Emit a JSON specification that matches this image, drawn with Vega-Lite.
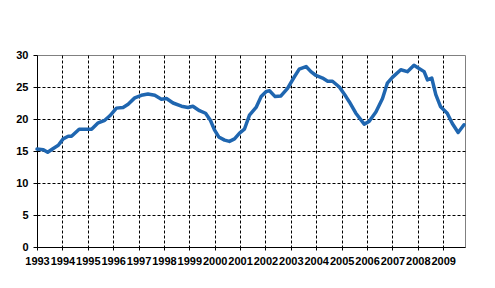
{
  "$schema": "https://vega.github.io/schema/vega-lite/v6.json",
  "width": 428,
  "height": 192,
  "autosize": {"type": "none"},
  "padding": {"left": 37, "top": 55, "right": 30, "bottom": 41},
  "background": "white",
  "config": {
    "view": {"stroke": "#808080", "strokeWidth": 1},
    "axis": {
      "labelFont": "Liberation Sans",
      "labelFontSize": 11,
      "labelFontWeight": "bold",
      "labelColor": "black",
      "domainColor": "black",
      "tickColor": "black",
      "tickSize": 4,
      "gridColor": "black",
      "gridDash": [3, 2],
      "gridOpacity": 1,
      "gridWidth": 1,
      "title": null
    }
  },
  "data": {
    "values": [
      {"t": 1993.0, "v": 15.3},
      {"t": 1993.25, "v": 15.2},
      {"t": 1993.42, "v": 14.8},
      {"t": 1993.64, "v": 15.4},
      {"t": 1993.84, "v": 15.9},
      {"t": 1994.03, "v": 16.9},
      {"t": 1994.23, "v": 17.3},
      {"t": 1994.36, "v": 17.3},
      {"t": 1994.66, "v": 18.4},
      {"t": 1994.89, "v": 18.4},
      {"t": 1995.15, "v": 18.4},
      {"t": 1995.41, "v": 19.4},
      {"t": 1995.67, "v": 19.8},
      {"t": 1995.87, "v": 20.5},
      {"t": 1996.13, "v": 21.7},
      {"t": 1996.39, "v": 21.8},
      {"t": 1996.59, "v": 22.3},
      {"t": 1996.85, "v": 23.3},
      {"t": 1997.11, "v": 23.7},
      {"t": 1997.37, "v": 23.9},
      {"t": 1997.64, "v": 23.7},
      {"t": 1997.9, "v": 23.1},
      {"t": 1998.1, "v": 23.2},
      {"t": 1998.36, "v": 22.5},
      {"t": 1998.69, "v": 22.0},
      {"t": 1998.95, "v": 21.8},
      {"t": 1999.14, "v": 22.0},
      {"t": 1999.4, "v": 21.3},
      {"t": 1999.64, "v": 20.9},
      {"t": 1999.83, "v": 19.8},
      {"t": 1999.99, "v": 18.3},
      {"t": 2000.16, "v": 17.2},
      {"t": 2000.39, "v": 16.7},
      {"t": 2000.58, "v": 16.5},
      {"t": 2000.78, "v": 16.9},
      {"t": 2000.98, "v": 17.8},
      {"t": 2001.17, "v": 18.4},
      {"t": 2001.37, "v": 20.6},
      {"t": 2001.63, "v": 21.8},
      {"t": 2001.83, "v": 23.5},
      {"t": 2002.03, "v": 24.3},
      {"t": 2002.16, "v": 24.4},
      {"t": 2002.38, "v": 23.5},
      {"t": 2002.61, "v": 23.6},
      {"t": 2002.87, "v": 24.8},
      {"t": 2003.14, "v": 26.6},
      {"t": 2003.33, "v": 27.8},
      {"t": 2003.6, "v": 28.2},
      {"t": 2003.79, "v": 27.4},
      {"t": 2003.99, "v": 26.8},
      {"t": 2004.25, "v": 26.4},
      {"t": 2004.45, "v": 25.9},
      {"t": 2004.64, "v": 25.9},
      {"t": 2004.91, "v": 25.0},
      {"t": 2005.17, "v": 23.5},
      {"t": 2005.3, "v": 22.7},
      {"t": 2005.56, "v": 20.9},
      {"t": 2005.89, "v": 19.2},
      {"t": 2006.08, "v": 19.6},
      {"t": 2006.35, "v": 21.1},
      {"t": 2006.61, "v": 23.2},
      {"t": 2006.8, "v": 25.6},
      {"t": 2007.0, "v": 26.5},
      {"t": 2007.33, "v": 27.7},
      {"t": 2007.59, "v": 27.4},
      {"t": 2007.85, "v": 28.4},
      {"t": 2008.05, "v": 27.9},
      {"t": 2008.25, "v": 27.4},
      {"t": 2008.38, "v": 26.1},
      {"t": 2008.55, "v": 26.4},
      {"t": 2008.71, "v": 23.8},
      {"t": 2008.9, "v": 21.9},
      {"t": 2009.16, "v": 20.9},
      {"t": 2009.36, "v": 19.3},
      {"t": 2009.59, "v": 17.9},
      {"t": 2009.82, "v": 19.1}
    ]
  },
  "mark": {"type": "line", "color": "#1F66B0", "strokeWidth": 3.5, "strokeJoin": "round", "strokeCap": "round"},
  "encoding": {
    "x": {
      "field": "t",
      "type": "quantitative",
      "scale": {"domain": [1993, 2009.86], "nice": false, "zero": false},
      "axis": {
        "values": [1993, 1994, 1995, 1996, 1997, 1998, 1999, 2000, 2001, 2002, 2003, 2004, 2005, 2006, 2007, 2008, 2009],
        "format": "d",
        "labelOverlap": false,
        "labelFlush": false,
        "labelBound": false,
        "labelPadding": 5,
        "tickSize": 3,
        "gridOpacity": {"condition": {"test": "datum.value == 1993", "value": 0}, "value": 1}
      }
    },
    "y": {
      "field": "v",
      "type": "quantitative",
      "scale": {"domain": [0, 30], "nice": false},
      "axis": {
        "values": [0, 5, 10, 15, 20, 25, 30],
        "labelPadding": 5,
        "labelFlush": false,
        "gridOpacity": {"condition": {"test": "datum.value == 30 || datum.value == 0", "value": 0}, "value": 1}
      }
    }
  }
}
